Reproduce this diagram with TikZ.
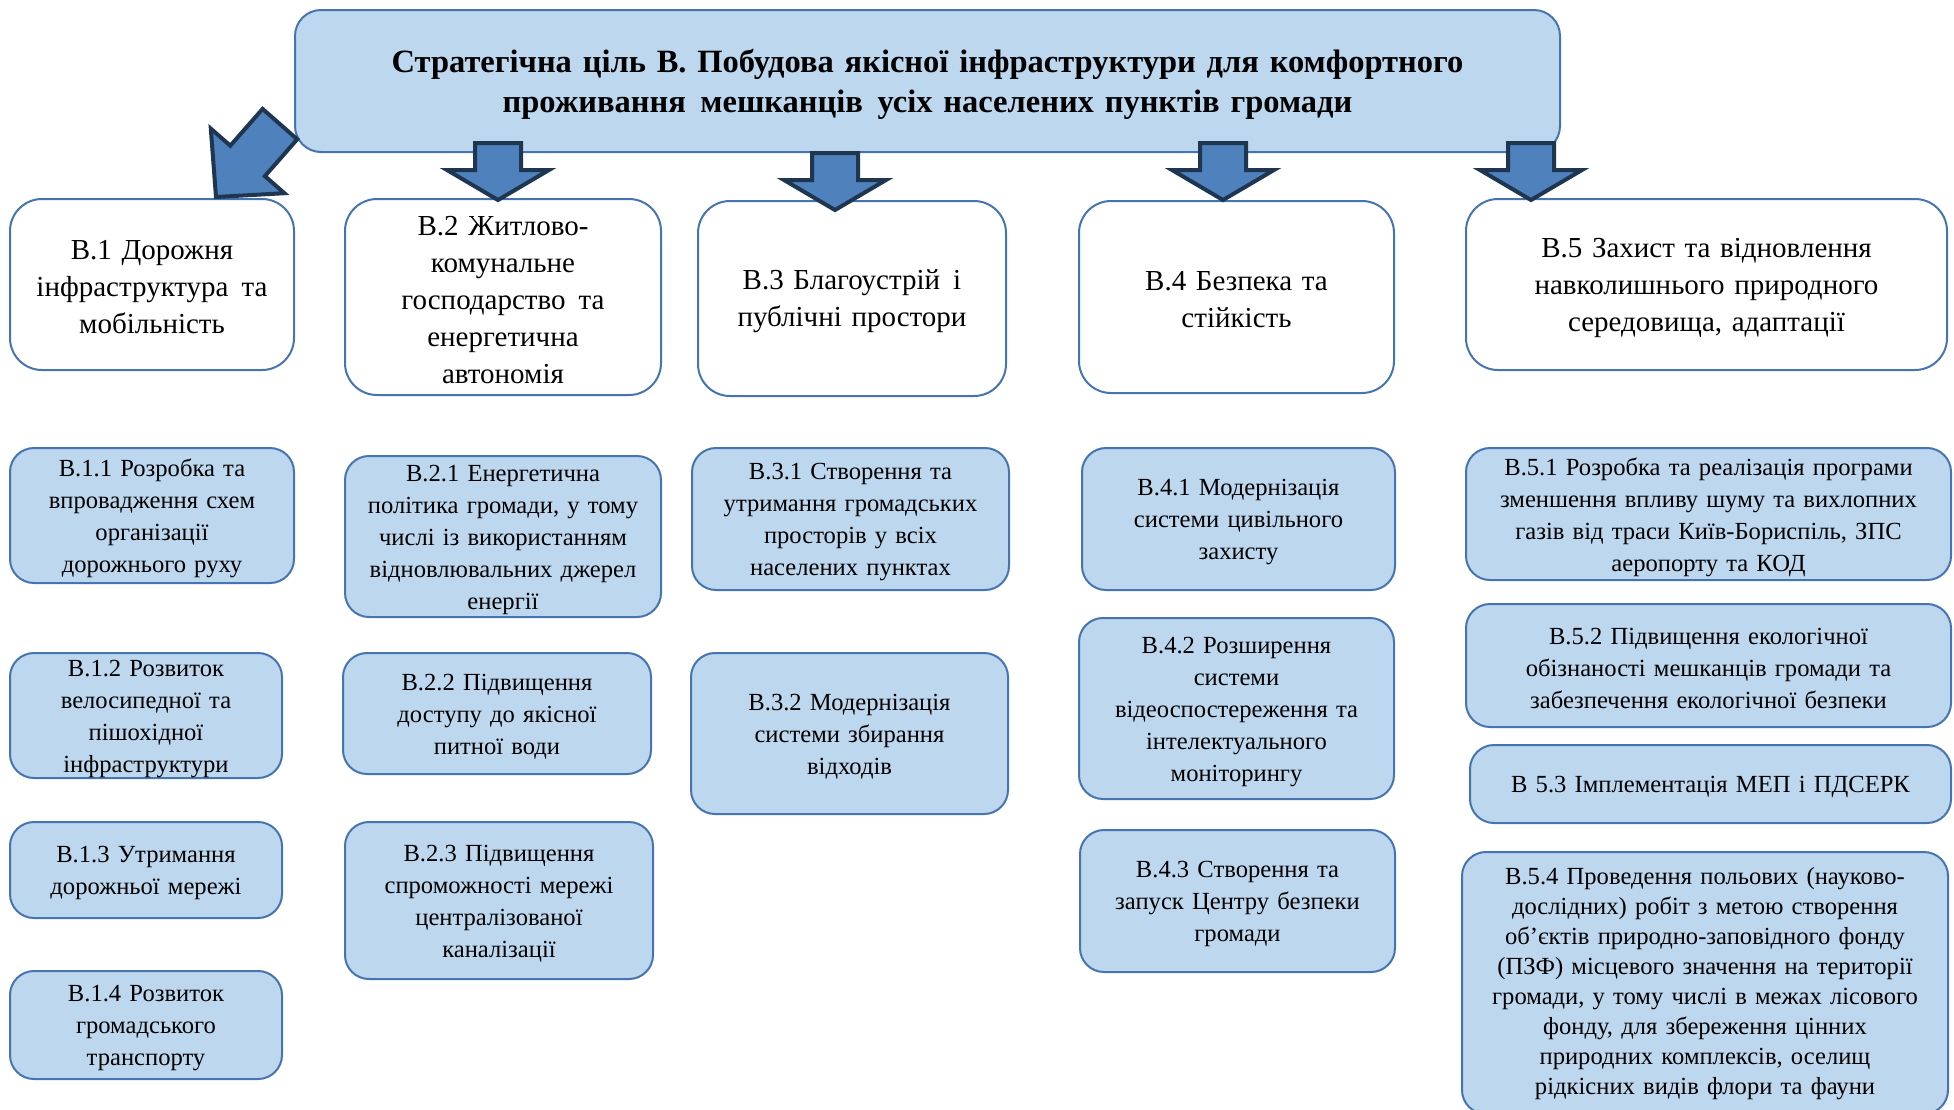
\documentclass[tikz,border=0pt]{standalone}
\usepackage{fontspec}
\setmainfont{Liberation Serif}
\definecolor{bordc}{HTML}{4674B0}
\definecolor{lightb}{HTML}{BDD7EE}
\definecolor{arrfill}{HTML}{4F81BD}
\definecolor{arrline}{HTML}{1F3650}
\tikzset{
  topbox/.style={draw=bordc, line width=2pt, fill=lightb, rounded corners=26pt, align=center, inner sep=0pt, font=\fontsize{32.5}{40}\selectfont\bfseries},
  catbox/.style={draw=bordc, line width=2pt, fill=white, rounded corners=32pt, align=center, inner sep=0pt, font=\fontsize{29}{37}\selectfont},
  subbox/.style={draw=bordc, line width=2pt, fill=lightb, rounded corners=24pt, align=center, inner sep=0pt, font=\fontsize{24.6}{32}\selectfont},
  subboxs/.style={subbox, font=\fontsize{24.6}{30}\selectfont},
  blockarr/.style={draw=arrline, fill=arrfill, line width=4pt, line join=miter},
  downarr/.pic={\draw[blockarr] (0,0) -- (-51,-30) -- (-23,-30) -- (-23,-57) -- (23,-57) -- (23,-30) -- (51,-30) -- cycle;}
}
% box node (name) plus a text node (name-t) set slightly lower, as in the reference
\newcommand\boxnode[8][3]{%
  \pgfmathsetmacro\bw{#6-#4}\pgfmathsetmacro\bh{#7-#5}%
  \pgfmathsetmacro\bcx{(#4+#6)/2}\pgfmathsetmacro\bcy{(#5+#7)/2}%
  \pgfmathsetmacro\tcy{(#5+#7)/2+#1}%
  \pgfmathsetmacro\tw{#6-#4-10}%
  \node[#2, minimum width=\bw pt, minimum height=\bh pt] (#3) at (\bcx,\bcy) {};
  \node[#2, draw=none, fill=none, text width=\tw pt] (#3-t) at (\bcx,\tcy) {#8};}
\newcommand\wsp{\hspace{0.45em}}
\begin{document}
\begin{tikzpicture}[x=1pt,y=-1pt]
\useasboundingbox (0,0) rectangle (1954,1109);
% top box
\boxnode{topbox}{top}{295}{10}{1560}{152}{Стратегічна ціль В. Побудова якісної інфраструктури для комфортного\\проживання\wsp мешканців\wsp усіх населених пунктів громади}
% category boxes
\boxnode{catbox}{b1}{10}{199}{294}{370}{В.1 Дорожня\\інфраструктура\wsp та\\мобільність}
\boxnode{catbox}{b2}{345}{199}{661}{395}{В.2 Житлово-\\комунальне\\господарство\wsp та\\енергетична\\автономія}
\boxnode{catbox}{b3}{698}{201}{1006}{396}{В.3 Благоустрій\wsp і\\публічні простори}
\boxnode{catbox}{b4}{1079}{201}{1394}{393}{В.4 Безпека та\\стійкість}
\boxnode{catbox}{b5}{1466}{199}{1947}{370}{В.5 Захист та відновлення\\навколишнього природного\\середовища, адаптації}
% column 1
\boxnode{subbox}{b11}{10}{448}{294}{583}{В.1.1 Розробка та\\впровадження схем\\організації\\дорожнього руху}
\boxnode{subbox}{b12}{10}{653}{282}{778}{В.1.2 Розвиток\\велосипедної та\\пішохідної\\інфраструктури}
\boxnode{subbox}{b13}{10}{822}{282}{918}{В.1.3 Утримання\\дорожньої мережі}
\boxnode{subbox}{b14}{10}{971}{282}{1079}{В.1.4 Розвиток\\громадського\\транспорту}
% column 2
\boxnode{subbox}{b21}{345}{456}{661}{617}{В.2.1 Енергетична\\політика громади, у тому\\числі із використанням\\відновлювальних джерел\\енергії}
\boxnode{subbox}{b22}{343}{653}{651}{774}{В.2.2 Підвищення\\доступу до якісної\\питної води}
\boxnode{subbox}{b23}{345}{822}{653}{979}{В.2.3 Підвищення\\спроможності мережі\\централізованої\\каналізації}
% column 3
\boxnode{subbox}{b31}{692}{448}{1009}{590}{В.3.1 Створення та\\утримання громадських\\просторів у всіх\\населених пунктах}
\boxnode{subbox}{b32}{691}{653}{1008}{814}{В.3.2 Модернізація\\системи збирання\\відходів}
% column 4
\boxnode{subbox}{b41}{1082}{448}{1395}{590}{В.4.1 Модернізація\\системи цивільного\\захисту}
\boxnode{subbox}{b42}{1079}{618}{1394}{799}{В.4.2 Розширення\\системи\\відеоспостереження та\\інтелектуального\\моніторингу}
\boxnode{subbox}{b43}{1080}{830}{1395}{972}{В.4.3 Створення та\\запуск Центру безпеки\\громади}
% column 5
\boxnode{subbox}{b51}{1466}{448}{1951}{580}{В.5.1 Розробка та реалізація програми\\зменшення впливу шуму та вихлопних\\газів від траси Київ-Бориспіль, ЗПС\\аеропорту та КОД}
\boxnode{subbox}{b52}{1466}{604}{1951}{727}{В.5.2 Підвищення екологічної\\обізнаності мешканців громади та\\забезпечення екологічної безпеки}
\boxnode{subbox}{b53}{1470}{745}{1951}{823}{В 5.3 Імплементація МЕП і ПДСЕРК}
\boxnode[1]{subboxs}{b54}{1462}{852}{1948}{1114}{В.5.4 Проведення польових (науково-\\дослідних) робіт з метою створення\\об’єктів природно-заповідного фонду\\(ПЗФ) місцевого значення на території\\громади, у тому числі в межах лісового\\фонду, для збереження цінних\\природних комплексів, оселищ\\рідкісних видів флори та фауни}
% arrows
\draw[blockarr] (216,197) -- (284.4,193.2) -- (264.9,176.1) -- (297.2,139.3) -- (262.6,108.9) -- (230.3,145.7) -- (210.8,128.6) -- cycle;
\pic at (498,200) {downarr};
\pic at (835,210) {downarr};
\pic at (1223,200) {downarr};
\pic at (1531,200) {downarr};
\end{tikzpicture}
\end{document}
